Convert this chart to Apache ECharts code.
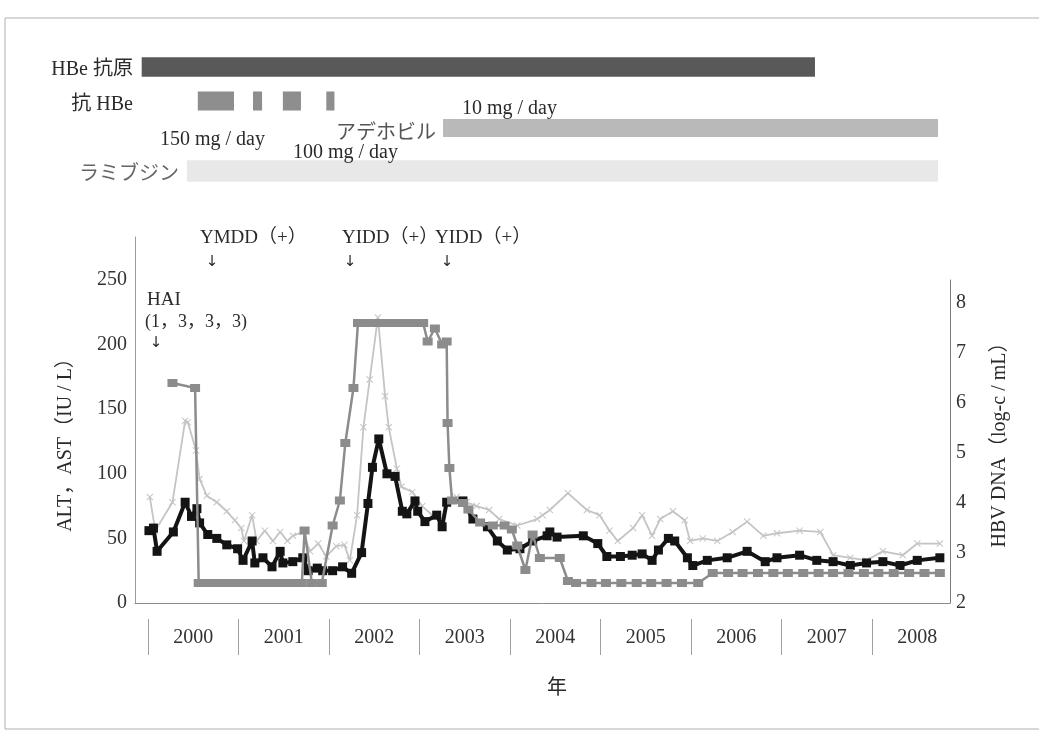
<!DOCTYPE html>
<html><head><meta charset="utf-8">
<script src="https://cdn.jsdelivr.net/npm/echarts@6/dist/echarts.min.js"></script>
<style>html,body{margin:0;padding:0;background:#fff}#c{width:1039px;height:732px}</style>
</head><body><div id="c"></div>
<script>
// ---------- data ----------
const yearTicks = [2000, 2001, 2002, 2003, 2004, 2005, 2006, 2007, 2008];
const yearLabels = ['2000', '2001', '2002', '2003', '2004', '2005', '2006', '2007', '2008'];
const leftTicks = [0, 50, 100, 150, 200, 250];
const rightTicks = [2, 3, 4, 5, 6, 7, 8];

// top timeline rows
const markerRows = ['HBe 抗原', '抗 HBe'];
const drugRows = ['アデホビル', 'ラミブジン'];
const hbeAgSpans = [[1999.93, 2007.37]];
const antiHbeSpans = [[2000.55, 2000.95], [2001.16, 2001.26], [2001.49, 2001.69], [2001.97, 2002.06]];
const adefovirSpans = [[2003.26, 2008.73]];
const lamivudineSpans = [[2000.43, 2008.73]];

// ALT (black, left axis)
const altT = [2000.01, 2000.06, 2000.10, 2000.28, 2000.41, 2000.48, 2000.54, 2000.57, 2000.66, 2000.76, 2000.87, 2000.99, 2001.05, 2001.15, 2001.18, 2001.27, 2001.37, 2001.46, 2001.49, 2001.60, 2001.71, 2001.77, 2001.87, 2001.93, 2002.04, 2002.15, 2002.25, 2002.36, 2002.43, 2002.48, 2002.55, 2002.64, 2002.73, 2002.81, 2002.86, 2002.95, 2002.98, 2003.06, 2003.19, 2003.25, 2003.30, 2003.48, 2003.59, 2003.75, 2003.86, 2003.97, 2004.11, 2004.25, 2004.41, 2004.44, 2004.52, 2004.81, 2004.97, 2005.07, 2005.22, 2005.35, 2005.46, 2005.57, 2005.64, 2005.75, 2005.82, 2005.96, 2006.02, 2006.18, 2006.40, 2006.62, 2006.82, 2006.95, 2007.20, 2007.39, 2007.57, 2007.76, 2007.94, 2008.12, 2008.31, 2008.50, 2008.75];
const altV = [56, 58, 40, 55, 78, 67, 73, 62, 53, 50, 45, 42, 33, 48, 31, 35, 28, 40, 31, 32, 35, 25, 27, 25, 25, 28, 23, 39, 77, 105, 127, 100, 98, 71, 69, 79, 71, 63, 68, 59, 78, 79, 65, 59, 48, 41, 42, 48, 52, 55, 51, 52, 46, 36, 36, 37, 38, 33, 41, 50, 48, 35, 29, 33, 35, 40, 32, 35, 37, 33, 32, 29, 31, 32, 29, 33, 35];

// AST (light grey, left axis)
const astT = [2000.02, 2000.08, 2000.27, 2000.41, 2000.44, 2000.53, 2000.57, 2000.65, 2000.76, 2000.87, 2000.96, 2001.03, 2001.06, 2001.15, 2001.20, 2001.29, 2001.38, 2001.46, 2001.54, 2001.60, 2001.71, 2001.79, 2001.88, 2001.97, 2002.08, 2002.17, 2002.23, 2002.31, 2002.38, 2002.45, 2002.54, 2002.62, 2002.66, 2002.75, 2002.80, 2002.92, 2003.03, 2003.14, 2003.25, 2003.30, 2003.41, 2003.52, 2003.63, 2003.77, 2003.88, 2004.08, 2004.30, 2004.36, 2004.44, 2004.64, 2004.85, 2004.99, 2005.10, 2005.19, 2005.36, 2005.46, 2005.57, 2005.66, 2005.80, 2005.93, 2005.99, 2006.13, 2006.29, 2006.46, 2006.62, 2006.80, 2006.95, 2007.20, 2007.43, 2007.57, 2007.76, 2007.94, 2008.12, 2008.34, 2008.50, 2008.75];
const astV = [82, 56, 78, 141, 140, 118, 96, 83, 78, 71, 64, 58, 48, 68, 48, 56, 48, 55, 48, 52, 55, 40, 46, 36, 44, 45, 33, 68, 136, 173, 221, 160, 136, 104, 90, 86, 75, 68, 65, 78, 82, 78, 75, 72, 65, 60, 65, 68, 72, 85, 72, 68, 56, 48, 58, 68, 52, 65, 71, 64, 48, 50, 48, 55, 63, 52, 54, 56, 55, 37, 35, 33, 40, 37, 46, 46];

// HBV DNA (mid grey, right axis, log copies/mL)
const dnaT = [2000.27, 2000.52, 2000.56, 2000.65, 2000.73, 2000.81, 2000.90, 2000.98, 2001.06, 2001.15, 2001.23, 2001.31, 2001.40, 2001.48, 2001.56, 2001.65, 2001.70, 2001.73, 2001.81, 2001.92, 2002.04, 2002.12, 2002.18, 2002.27, 2002.32, 2002.40, 2002.48, 2002.56, 2002.65, 2002.73, 2002.81, 2002.90, 2002.98, 2003.04, 2003.09, 2003.17, 2003.25, 2003.30, 2003.31, 2003.33, 2003.36, 2003.48, 2003.54, 2003.67, 2003.81, 2003.94, 2004.02, 2004.08, 2004.17, 2004.25, 2004.33, 2004.55, 2004.64, 2004.73, 2004.90, 2005.06, 2005.23, 2005.40, 2005.56, 2005.73, 2005.90, 2006.08, 2006.24, 2006.41, 2006.57, 2006.74, 2006.91, 2007.07, 2007.24, 2007.41, 2007.57, 2007.74, 2007.91, 2008.07, 2008.24, 2008.41, 2008.58, 2008.75];
const dnaV = [6.4, 6.3, 2.4, 2.4, 2.4, 2.4, 2.4, 2.4, 2.4, 2.4, 2.4, 2.4, 2.4, 2.4, 2.4, 2.4, 2.4, 3.45, 2.4, 2.4, 3.55, 4.05, 5.2, 6.3, 7.6, 7.6, 7.6, 7.6, 7.6, 7.6, 7.6, 7.6, 7.6, 7.6, 7.23, 7.49, 7.17, 7.23, 5.6, 4.7, 4.05, 4.0, 3.87, 3.61, 3.55, 3.55, 3.47, 3.15, 2.66, 3.37, 2.9, 2.9, 2.44, 2.4, 2.4, 2.4, 2.4, 2.4, 2.4, 2.4, 2.4, 2.4, 2.6, 2.6, 2.6, 2.6, 2.6, 2.6, 2.6, 2.6, 2.6, 2.6, 2.6, 2.6, 2.6, 2.6, 2.6, 2.6];

// ---------- chart ----------
const X_MIN = 1999.856, X_MAX = 2008.862;
const SERIF = "'Liberation Serif', 'Noto Sans CJK JP', serif";
const CJK = "'Noto Sans CJK JP', sans-serif";
const zip = (t, v) => t.map((x, i) => [x, v[i]]);
const xPath = 'path://M0,1L1,0L5,4L9,0L10,1L6,5L10,9L9,10L5,6L1,10L0,9L4,5Z';

function spanSeries(spans, row, axisIdx, color, frac) {
  return {
    type: 'custom', xAxisIndex: axisIdx, yAxisIndex: axisIdx - 1, silent: true, z: 1,
    data: spans.map(s => [s[0], s[1], row]),
    renderItem: function (params, api) {
      const r = api.value(2);
      const a = api.coord([api.value(0), r]);
      const b = api.coord([api.value(1), r]);
      const h = api.size([0, 1])[1] * frac;
      return { type: 'rect', shape: { x: a[0], y: a[1] - h / 2, width: b[0] - a[0], height: h }, style: { fill: color } };
    }
  };
}

const txt = (x, y, text, o) => Object.assign({
  type: 'text', x: x, y: y, z: 100,
  style: Object.assign({ text: text, fill: '#2a2a2a', font: '20px ' + SERIF, align: 'left', verticalAlign: 'middle' }, (o && o.style) || {})
}, o && o.rotation ? { rotation: o.rotation } : {});

const chart = echarts.init(document.getElementById('c'));
chart.setOption({
  backgroundColor: '#fff',
  animation: false,
  grid: [
    { left: 135, right: 89, top: 237, bottom: 129 },   // main (left axis)
    { left: 135, right: 89, top: 280, bottom: 129 },   // DNA (right axis)
    { left: 135, right: 89, top: 50, height: 68 },     // HBe antigen / antibody rows
    { left: 135, right: 89, top: 106.5, height: 86 }   // drug rows
  ],
  xAxis: [
    { type: 'value', gridIndex: 0, min: X_MIN, max: X_MAX, axisLine: { lineStyle: { color: '#8a8a8a', width: 1 } }, axisTick: { show: false }, axisLabel: { show: false }, splitLine: { show: false } },
    { type: 'value', gridIndex: 0, min: X_MIN, max: X_MAX, position: 'bottom', offset: 16,
      axisLine: { show: false },
      axisTick: { show: true, customValues: yearTicks, length: 36, lineStyle: { color: '#a0a0a0', width: 1 } },
      axisLabel: { customValues: yearTicks.map(y => y + 0.5), formatter: v => yearLabels[Math.floor(v) - yearTicks[0]], fontFamily: SERIF, fontSize: 20, color: '#333', margin: 9 },
      splitLine: { show: false } },
    { type: 'value', gridIndex: 1, min: X_MIN, max: X_MAX, show: false, splitLine: { show: false } },
    { type: 'value', gridIndex: 2, min: X_MIN, max: X_MAX, show: false, splitLine: { show: false } },
    { type: 'value', gridIndex: 3, min: X_MIN, max: X_MAX, show: false, splitLine: { show: false } }
  ],
  yAxis: [
    { type: 'value', gridIndex: 0, min: 0, max: 283.3, interval: 50, position: 'left',
      axisLine: { show: true, lineStyle: { color: '#9a9a9a' } }, axisTick: { show: false }, splitLine: { show: false },
      axisLabel: { showMaxLabel: false, fontFamily: SERIF, fontSize: 20, color: '#333', margin: 8,
        formatter: v => leftTicks.indexOf(v) >= 0 ? String(v) : '' } },
    { type: 'value', gridIndex: 1, min: 2, max: 8.46, interval: 1, position: 'right',
      axisLine: { show: true, lineStyle: { color: '#7a7a7a' } }, axisTick: { show: false }, splitLine: { show: false },
      axisLabel: { showMaxLabel: false, fontFamily: SERIF, fontSize: 20, color: '#333', margin: 6,
        formatter: v => rightTicks.indexOf(v) >= 0 ? String(v) : '' } },
    { type: 'category', gridIndex: 2, data: markerRows, inverse: true, show: false },
    { type: 'category', gridIndex: 3, data: drugRows, inverse: true, show: false }
  ],
  series: [
    spanSeries(hbeAgSpans, 0, 3, '#595959', 0.58),
    spanSeries(antiHbeSpans, 1, 3, '#8e8e8e', 0.56),
    spanSeries(adefovirSpans, 0, 4, '#b9b9b9', 0.42),
    spanSeries(lamivudineSpans, 1, 4, '#e8e8e8', 0.5),
    { name: 'AST', type: 'line', xAxisIndex: 0, yAxisIndex: 0, data: zip(astT, astV), showAllSymbol: true,
      symbol: xPath, symbolSize: 7, lineStyle: { color: '#c4c4c4', width: 1.8 }, itemStyle: { color: '#c4c4c4' }, z: 2 },
    { name: 'ALT', type: 'line', xAxisIndex: 0, yAxisIndex: 0, data: zip(altT, altV), showAllSymbol: true,
      symbol: 'rect', symbolSize: 9, lineStyle: { color: '#141414', width: 4 }, itemStyle: { color: '#141414' }, z: 3 },
    { name: 'HBV DNA', type: 'line', xAxisIndex: 2, yAxisIndex: 1, data: zip(dnaT, dnaV), showAllSymbol: true,
      symbol: 'rect', symbolSize: [10, 8], lineStyle: { color: '#8c8c8c', width: 2.5 }, itemStyle: { color: '#8c8c8c' }, z: 4 }
  ],
  graphic: [
    { type: 'rect', z: 0, shape: { x: 5, y: 18, width: 1040, height: 711 }, style: { fill: 'none', stroke: '#b0b0b0', lineWidth: 1 }, silent: true },
    txt(133, 70, 'HBe 抗原', { style: { align: 'right' } }),
    txt(133, 105, '抗 HBe', { style: { align: 'right' } }),
    txt(462, 109, '10 mg / day'),
    txt(436, 131, 'アデホビル', { style: { align: 'right', fill: '#555', font: '20px ' + CJK } }),
    txt(160, 140, '150 mg / day'),
    txt(293, 153, '100 mg / day'),
    txt(179, 172, 'ラミブジン', { style: { align: 'right', fill: '#666', font: '20px ' + CJK } }),
    txt(200, 238, 'YMDD（+）', { style: { font: '19px ' + SERIF } }),
    txt(342, 238, 'YIDD（+）', { style: { font: '19px ' + SERIF } }),
    txt(435, 238, 'YIDD（+）', { style: { font: '19px ' + SERIF } }),
    txt(212, 262, '↓', { style: { align: 'center', font: '15px DejaVu Sans' } }),
    txt(350, 262, '↓', { style: { align: 'center', font: '15px DejaVu Sans' } }),
    txt(447, 262, '↓', { style: { align: 'center', font: '15px DejaVu Sans' } }),
    txt(147, 300, 'HAI', { style: { font: '19px ' + SERIF } }),
    txt(145, 322, '(1，3，3，3)', { style: { font: '18px ' + SERIF } }),
    txt(156, 343, '↓', { style: { align: 'center', font: '15px DejaVu Sans' } }),
    txt(557, 686, '年', { style: { align: 'center', font: '20px ' + CJK } }),
    txt(66, 440, 'ALT，AST（IU / L）', { rotation: Math.PI / 2, style: { align: 'center', font: '20px ' + SERIF } }),
    txt(1000, 440, 'HBV DNA（log-c / mL）', { rotation: Math.PI / 2, style: { align: 'center', font: '20px ' + SERIF } })
  ]
});
</script></body></html>
